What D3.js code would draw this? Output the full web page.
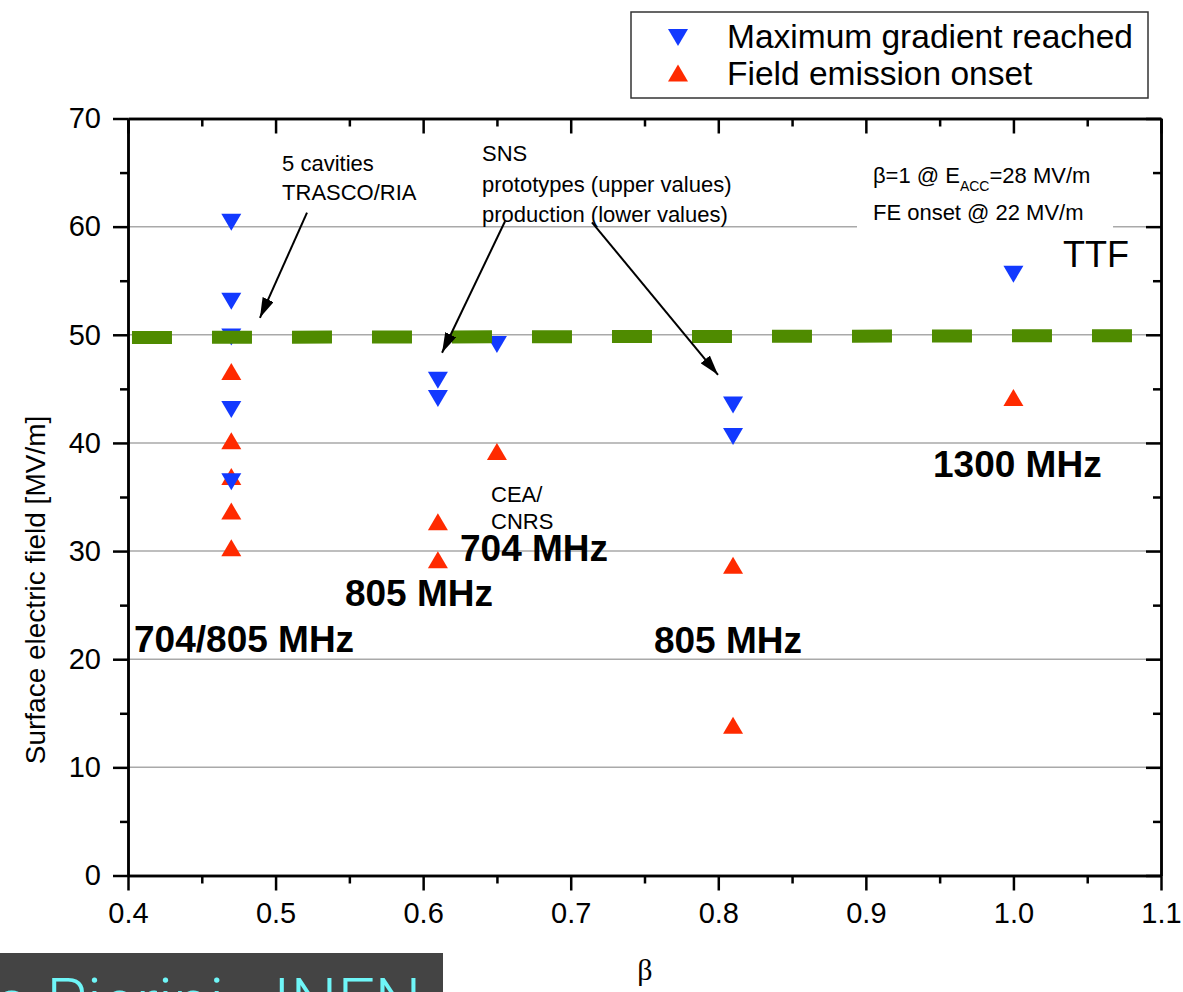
<!DOCTYPE html>
<html>
<head>
<meta charset="utf-8">
<script src="https://cdn.jsdelivr.net/npm/d3@7"></script>
<style>
  body { margin: 0; background: #fff; }
  svg { display: block; font-family: "Liberation Sans", Arial, Helvetica, sans-serif; }
</style>
</head>
<body>
<svg id="chart" width="1183" height="992"></svg>
<script>
// --- data ---
const maxBeta = [0.47, 0.47, 0.47, 0.47, 0.47, 0.61, 0.61, 0.65, 0.81, 0.81, 1.0]
const maxField = [60.4, 53.1, 49.8, 43.1, 36.4, 45.8, 44.1, 49.1, 43.5, 40.6, 55.6]

const feBeta = [0.47, 0.47, 0.47, 0.47, 0.47, 0.61, 0.61, 0.65, 0.81, 0.81, 1.0]
const feField = [46.6, 40.2, 36.9, 33.7, 30.3, 32.7, 29.2, 39.2, 28.7, 13.9, 44.2]

// the dashed limit line (~50 MV/m)
const limitBeta = [0.4027, 1.081]
const limitField = [49.75, 49.92]

const xMajor = [0.4, 0.5, 0.6, 0.7, 0.8, 0.9, 1.0, 1.1]
const xMinor = [0.45, 0.55, 0.65, 0.75, 0.85, 0.95, 1.05]
const yMajor = [0, 10, 20, 30, 40, 50, 60, 70]
const yMinor = [5, 15, 25, 35, 45, 55, 65]
const gridValues = [10, 20, 30, 40, 50, 60]

// annotations: [beta, field, text]
const boldLabels = [
	[0.4041, 20.68, "704/805 MHz"],
	[0.547, 24.93, "805 MHz"],
	[0.625, 29.09, "704 MHz"],
	[0.7564, 20.58, "805 MHz"],
	[0.9455, 36.86, "1300 MHz"]
]
const noteLabels = [
	[0.5044, 65.17, "5 cavities"],
	[0.5044, 62.49, "TRASCO/RIA"],
	[0.6399, 66.1, "SNS"],
	[0.6399, 63.2, "prototypes (upper values)"],
	[0.6399, 60.4, "production (lower values)"],
	[0.646, 34.55, "CEA/"],
	[0.646, 32.05, "CNRS"],
	[0.9048, 60.64, "FE onset @ 22 MV/m"]
]
// arrows: [beta0, field0, beta1, field1]
const arrows = [
	[0.5213, 61.3, 0.4894, 51.57],
	[0.6555, 60.5, 0.6128, 48.34],
	[0.7144, 60.4, 0.7998, 46.3]
]

const setup = () => {
	const svg = d3.select("#chart")
	const x = d3.scaleLinear().domain([0.4, 1.1]).range([128, 1161])
	const y = d3.scaleLinear().domain([0, 70]).range([875.5, 118.5])

	// gridlines
	svg.append("g")
	   .selectAll("line")
	   .data(gridValues)
	   .join("line")
	   .attr("x1", x(0.4)).attr("x2", x(1.1))
	   .attr("y1", d => y(d)).attr("y2", d => y(d))
	   .attr("stroke", "#a9a9a9")
	   .attr("stroke-width", 1.5)

	// white box behind the TTF note
	svg.append("rect")
	   .attr("x", x(0.894)).attr("y", y(66.2))
	   .attr("width", x(1.0675) - x(0.894))
	   .attr("height", y(59.2) - y(66.2))
	   .attr("fill", "#fff")

	// markers
	const up = "M0,-8.5L10,8.5L-10,8.5Z"
	const down = "M-10,-8.5L10,-8.5L0,8.5Z"
	svg.append("g")
	   .selectAll("path")
	   .data(d3.zip(feBeta, feField))
	   .join("path")
	   .attr("d", up)
	   .attr("transform", d => `translate(${x(d[0])},${y(d[1])})`)
	   .attr("fill", "#ff2a00")
	svg.append("g")
	   .selectAll("path")
	   .data(d3.zip(maxBeta, maxField))
	   .join("path")
	   .attr("d", down)
	   .attr("transform", d => `translate(${x(d[0])},${y(d[1])})`)
	   .attr("fill", "#1239ff")

	// dashed green line
	const lineGenerator = d3.line()
	                        .x(d => x(d[0]))
	                        .y(d => y(d[1]))
	svg.append("path")
	   .attr("d", lineGenerator(d3.zip(limitBeta, limitField)))
	   .attr("stroke", "#4f8b00")
	   .attr("stroke-width", 13)
	   .attr("stroke-dasharray", "40,40")
	   .attr("fill", "none")

	// axes
	const styleAxis = (g, size) => {
		g.select(".domain").attr("stroke", "#000").attr("stroke-width", 2.5)
		g.selectAll(".tick line").attr("stroke", "#000").attr("stroke-width", 2.5)
		g.selectAll("text").attr("fill", "#000").style("font-size", size)
	}
	const fmt = d3.format(".1f")
	svg.append("g").attr("transform", `translate(0,${y(0)})`)
	   .call(d3.axisBottom(x).tickValues(xMinor).tickSizeInner(8).tickSizeOuter(0).tickFormat(""))
	   .call(g => styleAxis(g, "29px"))
	svg.append("g").attr("transform", `translate(0,${y(0)})`)
	   .call(d3.axisBottom(x).tickValues(xMajor).tickSizeInner(15).tickSizeOuter(0).tickPadding(12).tickFormat(fmt))
	   .call(g => styleAxis(g, "29px"))
	svg.append("g").attr("transform", `translate(${x(0.4)},0)`)
	   .call(d3.axisLeft(y).tickValues(yMinor).tickSizeInner(8).tickSizeOuter(0).tickFormat(""))
	   .call(g => styleAxis(g, "29px"))
	svg.append("g").attr("transform", `translate(${x(0.4)},0)`)
	   .call(d3.axisLeft(y).tickValues(yMajor).tickSizeInner(15).tickSizeOuter(0).tickPadding(12))
	   .call(g => styleAxis(g, "29px"))
	svg.append("g").attr("transform", `translate(0,${y(70)})`)
	   .call(d3.axisTop(x).tickValues(xMinor).tickSizeInner(-8).tickSizeOuter(0).tickFormat(""))
	   .call(g => styleAxis(g, "29px"))
	svg.append("g").attr("transform", `translate(0,${y(70)})`)
	   .call(d3.axisTop(x).tickValues(xMajor).tickSizeInner(-15).tickSizeOuter(0).tickFormat(""))
	   .call(g => styleAxis(g, "29px"))
	svg.append("g").attr("transform", `translate(${x(1.1)},0)`)
	   .call(d3.axisRight(y).tickValues(yMinor).tickSizeInner(-8).tickSizeOuter(0).tickFormat(""))
	   .call(g => styleAxis(g, "29px"))
	svg.append("g").attr("transform", `translate(${x(1.1)},0)`)
	   .call(d3.axisRight(y).tickValues(yMajor).tickSizeInner(-15).tickSizeOuter(0).tickFormat(""))
	   .call(g => styleAxis(g, "29px"))

	// axis titles
	svg.append("text")
	   .attr("transform", `translate(45,${y(26.4)}) rotate(-90)`)
	   .attr("text-anchor", "middle")
	   .style("font-size", "28px")
	   .text("Surface electric field [MV/m]")
	svg.append("text")
	   .attr("x", 645).attr("y", 980)
	   .attr("text-anchor", "middle")
	   .style("font-family", "'Liberation Serif', 'Times New Roman', serif")
	   .style("font-size", "30px")
	   .text("β")

	// annotations
	svg.append("g")
	   .selectAll("text")
	   .data(boldLabels)
	   .join("text")
	   .attr("x", d => x(d[0])).attr("y", d => y(d[1]))
	   .style("font-size", "37px").style("font-weight", "bold")
	   .text(d => d[2])
	svg.append("g")
	   .selectAll("text")
	   .data(noteLabels)
	   .join("text")
	   .attr("x", d => x(d[0])).attr("y", d => y(d[1]))
	   .style("font-size", "22px")
	   .text(d => d[2])

	const beamNote = svg.append("text")
	   .attr("x", x(0.9048)).attr("y", y(64.06))
	   .style("font-size", "22px")
	beamNote.append("tspan").text("β=1 @ E")
	beamNote.append("tspan").attr("dy", 8).style("font-size", "14px").text("ACC")
	beamNote.append("tspan").attr("dy", -8).text("=28 MV/m")

	svg.append("text")
	   .attr("x", x(1.0336)).attr("y", y(56.29))
	   .style("font-size", "36px")
	   .text("TTF")

	// arrows
	svg.append("defs").append("marker")
	   .attr("id", "head")
	   .attr("markerUnits", "userSpaceOnUse")
	   .attr("viewBox", "0 -6 20 12")
	   .attr("refX", 20).attr("refY", 0)
	   .attr("markerWidth", 20).attr("markerHeight", 12)
	   .attr("orient", "auto")
	   .append("path")
	   .attr("d", "M0,-6L20,0L0,6Z")
	   .attr("fill", "#000")
	svg.append("g")
	   .selectAll("line")
	   .data(arrows)
	   .join("line")
	   .attr("x1", d => x(d[0])).attr("y1", d => y(d[1]))
	   .attr("x2", d => x(d[2])).attr("y2", d => y(d[3]))
	   .attr("stroke", "#000")
	   .attr("stroke-width", 2)
	   .attr("marker-end", "url(#head)")

	// legend
	const legend = svg.append("g")
	legend.append("rect")
	      .attr("x", 631).attr("y", 12).attr("width", 517).attr("height", 86)
	      .attr("fill", "#fff").attr("stroke", "#333").attr("stroke-width", 1.5)
	legend.append("path").attr("d", down).attr("transform", "translate(678,37.5)").attr("fill", "#1239ff")
	legend.append("path").attr("d", up).attr("transform", "translate(678,73)").attr("fill", "#ff2a00")
	legend.append("text").attr("x", 727).attr("y", 48).style("font-size", "33.5px").text("Maximum gradient reached")
	legend.append("text").attr("x", 727).attr("y", 85).style("font-size", "33.5px").text("Field emission onset")

	// author banner, cut at the bottom edge
	const banner = svg.append("g")
	banner.append("rect")
	      .attr("x", 0).attr("y", 953).attr("width", 443).attr("height", 60)
	      .attr("fill", "#444")
	banner.append("text")
	      .attr("x", 224).attr("y", 1026)
	      .attr("text-anchor", "end")
	      .attr("fill", "#6ff6f8")
	      .style("font-family", "Roboto, 'Open Sans', sans-serif")
	      .style("font-weight", 300)
	      .style("font-size", "66px")
	      .text("Paolo Pierini")
	banner.append("text")
	      .attr("x", 273).attr("y", 1026)
	      .attr("fill", "#6ff6f8")
	      .style("font-family", "Roboto, 'Open Sans', sans-serif")
	      .style("font-weight", 300)
	      .style("font-size", "66px")
	      .text("INFN")
}

document.addEventListener("DOMContentLoaded", setup)
</script>
</body>
</html>
